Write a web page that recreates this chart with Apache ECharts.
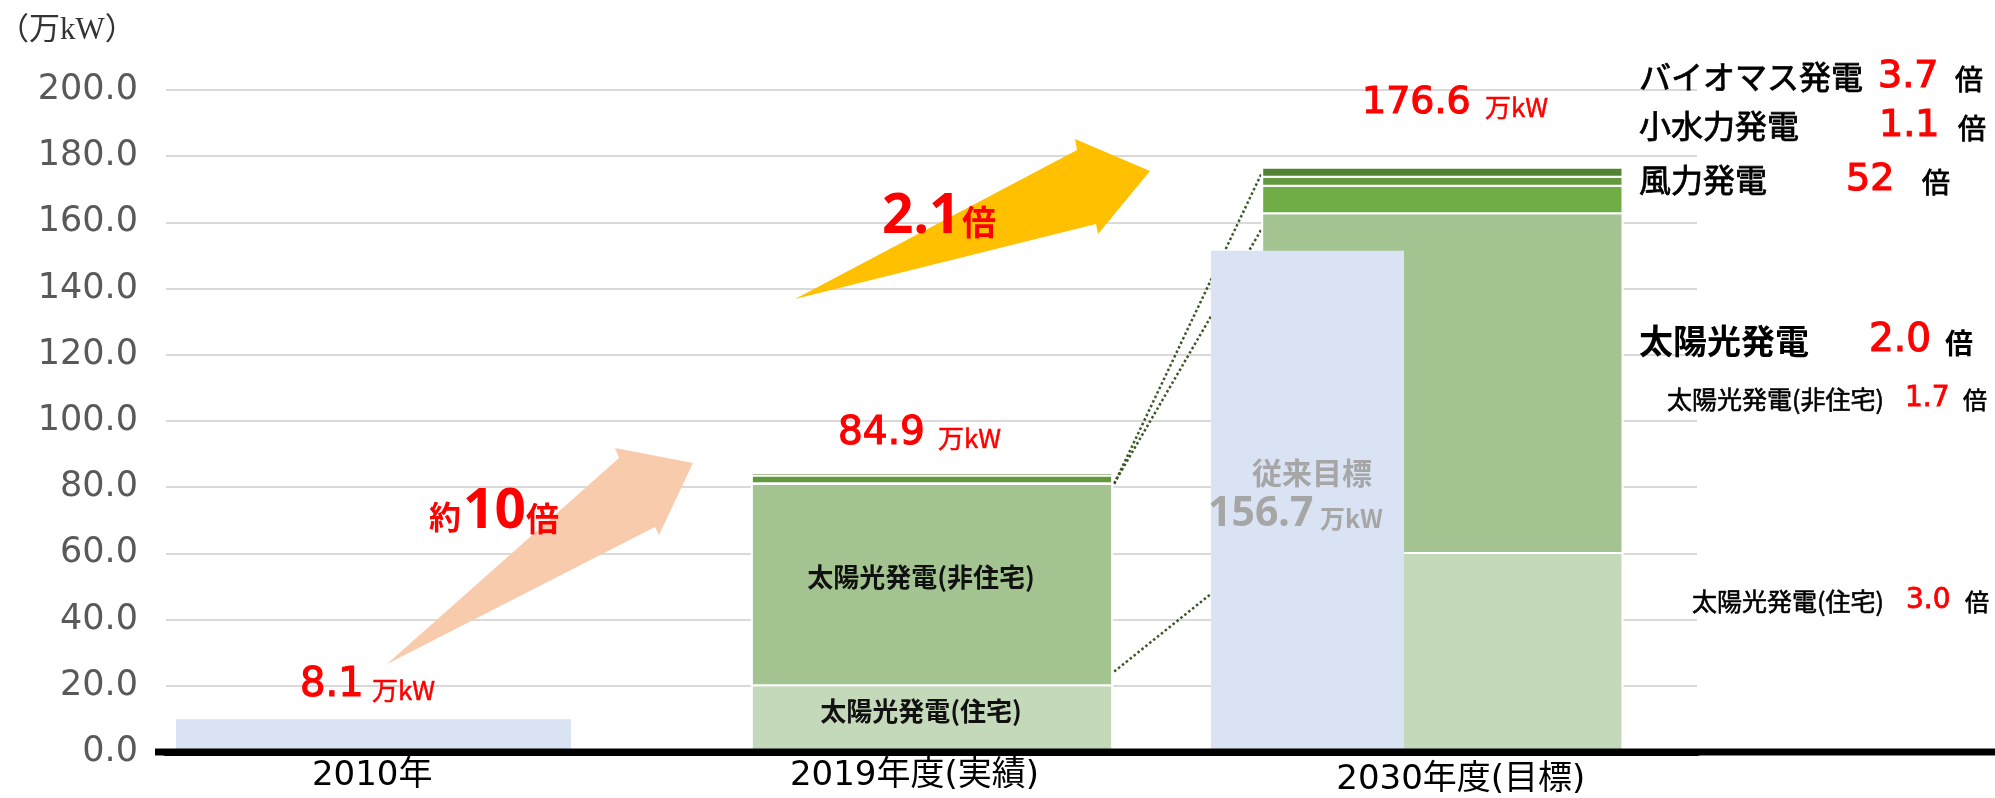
<!DOCTYPE html>
<html>
<head>
<meta charset="utf-8">
<script src="https://cdn.jsdelivr.net/npm/echarts@6/dist/echarts.min.js"></script>
<style>
  html, body { margin: 0; padding: 0; background: #fff; }
  #main { width: 1995px; height: 798px; }
</style>
</head>
<body>
<div id="main"></div>
<script>
// 区分
const categories = ['2010年', '2019年度(実績)', '2030年度(目標)'];
// 積み上げ（万kW）
const solarHome = [null, 20.2, 60.1];
const solarBiz = [null, 60.8, 102.7];
const windPower = [null, 0.2, 8.3];
const smallHydro = [null, 2.3, 2.7];
const biomass = [null, 0.8, 2.7];
// 青いバー
const actual2010 = [9.9, null, null];
const oldTarget = [null, null, 151.4];
// 2019 -> 2030 の点線（始点, 終点）
const guideFrom = [81.0, 81.2, 24.3];
const guideTo = [175.2, 158.3, 60.2];
// 棒の中の文字
const homeLabels = [null, '太陽光発電(住宅)', null];
const bizLabels = [null, '太陽光発電(非住宅)', null];
const yTicks = [0, 20, 40, 60, 80, 100, 120, 140, 160, 180, 200];

const CJK = '"Noto Sans CJK JP", "Noto Sans", sans-serif';
const NUM = '"Noto Sans", "Noto Sans CJK JP", sans-serif';
const DJV = '"DejaVu Sans", "Noto Sans CJK JP", sans-serif';

const chart = echarts.init(document.getElementById('main'));

// 棒の左右位置（バンド幅に対する比）
const greenSpan = [-0.352, 0.354];
const blueSpan2010 = [-0.4805, 0.2936];
const blueSpanTarget = [-0.4523, -0.0741];

function rectItem(span, withStroke) {
  return function (params, api) {
    const c = api.value(0), lo = api.value(1), hi = api.value(2);
    const band = api.size([1, 0])[0];
    const p0 = api.coord([c, lo]);
    const p1 = api.coord([c, hi]);
    const x = p0[0] + span[0] * band;
    const w = (span[1] - span[0]) * band;
    const children = [{
      type: 'rect',
      shape: { x: x, y: p1[1], width: w, height: p0[1] - p1[1] },
      style: withStroke
        ? { fill: api.visual('color'), stroke: '#fff', lineWidth: 2 }
        : { fill: api.visual('color') }
    }];
    const lab = api.value(3);
    if (lab && typeof lab === 'string') {
      children.push({
        type: 'text',
        style: {
          text: lab, x: x + w / 2 - 11, y: (p0[1] + p1[1]) / 2 - 7,
          align: 'center', verticalAlign: 'middle',
          fill: '#111', fontSize: 26, fontWeight: 'bold', fontFamily: CJK
        }
      });
    }
    return { type: 'group', children: children };
  };
}

// 積み上げ計算
const layers = [
  { name: '太陽光発電(住宅)', values: solarHome, color: '#C4D8BA', labels: homeLabels },
  { name: '太陽光発電(非住宅)', values: solarBiz, color: '#A3C490', labels: bizLabels },
  { name: '風力発電', values: windPower, color: '#70AD47' },
  { name: '小水力発電', values: smallHydro, color: '#62993E' },
  { name: 'バイオマス発電', values: biomass, color: '#548235' }
];
const base = categories.map(() => 0);
const stackSeries = layers.map(function (L) {
  const data = [];
  L.values.forEach(function (v, i) {
    if (v == null) return;
    data.push([i, base[i], base[i] + v, L.labels ? (L.labels[i] || '') : '']);
    base[i] += v;
  });
  return {
    type: 'custom', name: L.name, z: 3,
    renderItem: rectItem(greenSpan, true),
    itemStyle: { color: L.color },
    encode: { x: 0, y: [1, 2] },
    data: data
  };
});

function blueData(arr) {
  const d = [];
  arr.forEach(function (v, i) { if (v != null) d.push([i, 0, v, '']); });
  return d;
}

const guideSeries = {
  type: 'custom', name: 'guide', z: 2, silent: true,
  renderItem: function (params, api) {
    const band = api.size([1, 0])[0];
    const a = api.coord([1, api.value(0)]);
    const b = api.coord([2, api.value(1)]);
    return {
      type: 'line',
      shape: { x1: a[0] + (greenSpan[1] + 0.004) * band, y1: a[1], x2: b[0] + greenSpan[0] * band, y2: b[1] },
      style: { stroke: '#385723', lineWidth: 2.5, lineDash: [2.5, 2.5] }
    };
  },
  data: guideFrom.map((v, i) => [v, guideTo[i]])
};

// heavy: 文字を少し太く見せる縁取り幅
function txt(x, y, s, size, color, weight, family, align, heavy) {
  const style = {
    text: s, fill: color, fontSize: size, fontWeight: weight || 'normal',
    fontFamily: family || CJK,
    align: align || 'left', verticalAlign: 'middle',
    textAlign: align || 'left', textVerticalAlign: 'middle'
  };
  if (heavy) { style.stroke = color; style.lineWidth = heavy; }
  return { type: 'text', x: x, y: y, z: 100, style: style };
}
const RED = '#FF0000';

const graphics = [
  // 矢印
  { type: 'polygon', z: 5, shape: { points: [[387, 664], [619, 458], [615, 448], [693, 463], [659, 535], [655, 527]] }, style: { fill: '#F8CBAD' } },
  { type: 'polygon', z: 5, shape: { points: [[795, 299], [1077, 150], [1075, 139], [1150, 171], [1098, 234], [1096, 224]] }, style: { fill: '#FFC000' } },
  // 合計
  txt(300, 686, '8.1', 40, RED, 'normal', DJV, 'left', 1.2),
  txt(372, 690, '万kW', 26, RED, 'normal', CJK, 'left', 0.5),
  txt(838, 434, '84.9', 39, RED, 'normal', DJV, 'left', 1.2),
  txt(938, 438, '万kW', 26, RED, 'normal', CJK, 'left', 0.5),
  txt(1362, 103, '176.6', 38, RED, 'normal', DJV, 'left', 1.2),
  txt(1485, 107, '万kW', 26, RED, 'normal', CJK, 'left', 0.5),
  // 倍率
  txt(429, 517, '約', 32, RED, 'bold'),
  txt(463, 512, '10', 55, RED, 'bold', NUM),
  txt(526, 518, '倍', 33, RED, 'bold'),
  txt(882, 217, '2.1', 55, RED, 'bold', NUM),
  txt(962, 222, '倍', 34, RED, 'bold'),
  // 従来目標
  txt(1312, 473, '従来目標', 30, '#A6A6A6', 'bold', CJK, 'center'),
  txt(1208, 514, '156.7', 41, '#A6A6A6', 'bold', NUM),
  txt(1320, 518, '万kW', 25, '#A6A6A6', 'bold'),
  // 右側
  txt(1639, 77, 'バイオマス発電', 32, '#000', 'normal', CJK, 'left', 0.8),
  txt(1878, 77, '3.7', 38, RED, 'normal', DJV, 'left', 1.2),
  txt(1955, 79, '倍', 28, '#000', 'normal', CJK, 'left', 0.8),
  txt(1639, 126, '小水力発電', 32, '#000', 'normal', CJK, 'left', 0.8),
  txt(1879, 126, '1.1', 38, RED, 'normal', DJV, 'left', 1.2),
  txt(1958, 128, '倍', 28, '#000', 'normal', CJK, 'left', 0.8),
  txt(1639, 180, '風力発電', 32, '#000', 'normal', CJK, 'left', 0.8),
  txt(1846, 180, '52', 38, RED, 'normal', DJV, 'left', 1.2),
  txt(1922, 182, '倍', 28, '#000', 'normal', CJK, 'left', 0.8),
  txt(1639, 341, '太陽光発電', 34, '#000', 'bold'),
  txt(1869, 341, '2.0', 39, RED, 'normal', DJV, 'left', 1.2),
  txt(1945, 343, '倍', 28, '#000', 'bold'),
  txt(1667, 399, '太陽光発電(非住宅)', 25, '#000', 'normal', CJK, 'left', 0.6),
  txt(1905, 399, '1.7', 28, RED, 'normal', DJV, 'left', 0.8),
  txt(1963, 400, '倍', 24, '#000', 'normal', CJK, 'left', 0.6),
  txt(1692, 601, '太陽光発電(住宅)', 25, '#000', 'normal', CJK, 'left', 0.6),
  txt(1906, 601, '3.0', 28, RED, 'normal', DJV, 'left', 0.8),
  txt(1965, 602, '倍', 24, '#000', 'normal', CJK, 'left', 0.6)
];

const catFont = { fontSize: 34, fontFamily: DJV, color: '#000' };

chart.setOption({
  animation: false,
  title: {
    text: '（万kW）', left: -7, top: 10,
    textStyle: { fontSize: 31, fontWeight: 'normal', color: '#333', fontFamily: '"Liberation Serif", "Noto Sans CJK JP", serif' }
  },
  grid: { left: 166, right: 298, top: 90, bottom: 46 },
  xAxis: {
    type: 'category', data: categories,
    axisTick: { show: false },
    axisLine: { lineStyle: { color: '#000', width: 7 } },
    axisLabel: {
      margin: 7, color: '#000', fontSize: 34, fontFamily: DJV,
      formatter: (v, i) => '{c' + i + '|' + v + '}',
      rich: {
        c0: Object.assign({ padding: [0, 98, 0, 0] }, catFont),
        c1: Object.assign({ padding: [0, 34, 0, 0] }, catFont),
        c2: Object.assign({ padding: [4, 0, 0, 38] }, catFont)
      }
    }
  },
  yAxis: {
    type: 'value', min: yTicks[0], max: yTicks[yTicks.length - 1], interval: 20,
    axisLine: { show: false }, axisTick: { show: false },
    axisLabel: { margin: 28, color: '#595959', fontSize: 35, fontFamily: '"DejaVu Sans", sans-serif', formatter: v => v.toFixed(1) },
    splitLine: { lineStyle: { color: '#D9D9D9', width: 2 } }
  },
  series: [guideSeries].concat(stackSeries).concat([
    { type: 'custom', name: '2010年', z: 4, renderItem: rectItem(blueSpan2010, false), itemStyle: { color: '#DAE3F3' }, encode: { x: 0, y: [1, 2] }, data: blueData(actual2010) },
    { type: 'custom', name: '従来目標', z: 4, renderItem: rectItem(blueSpanTarget, false), itemStyle: { color: '#DAE3F3' }, encode: { x: 0, y: [1, 2] }, data: blueData(oldTarget) }
  ]),
  graphic: graphics
});

// 軸線を左右に延長
const y0 = chart.convertToPixel({ yAxisIndex: 0 }, 0);
chart.setOption({
  graphic: graphics.concat([{ type: 'line', z: 50, shape: { x1: 155, y1: y0, x2: 1995, y2: y0 }, style: { stroke: '#000', lineWidth: 7 } }])
});
</script>
</body>
</html>
